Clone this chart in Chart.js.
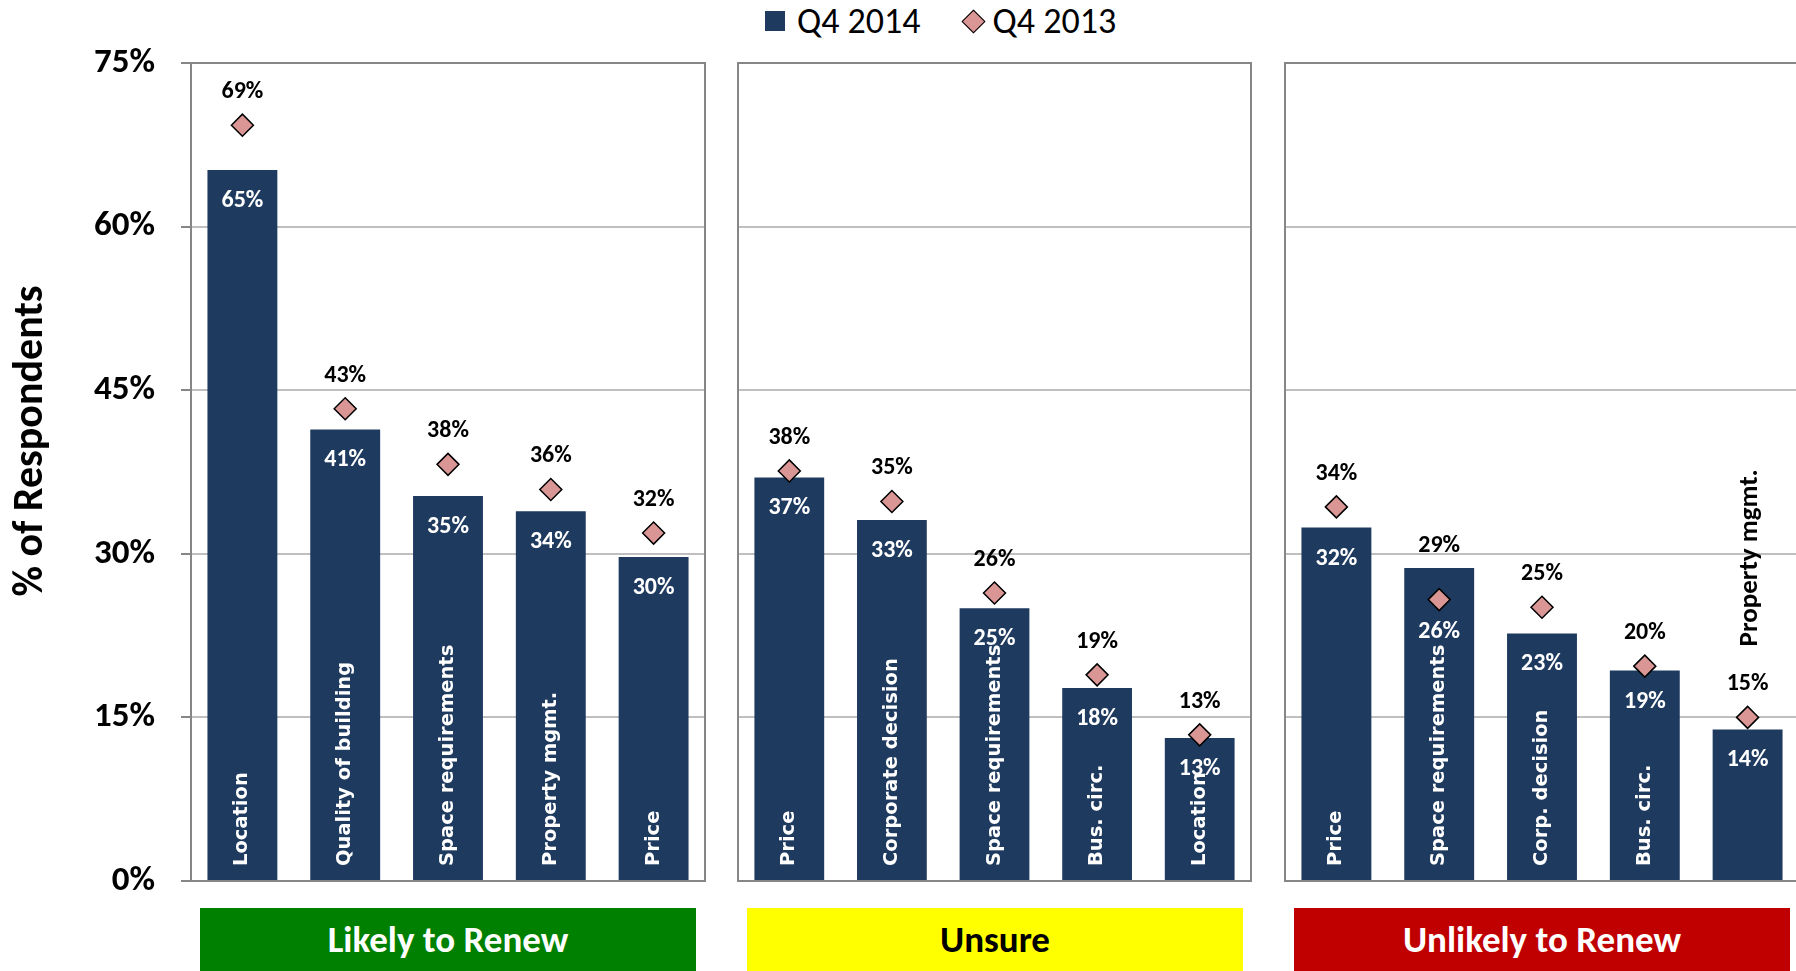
<!DOCTYPE html>
<html>
<head>
<meta charset="utf-8">
<script src="https://cdn.jsdelivr.net/npm/chart.js@4/dist/chart.umd.min.js"></script>
<style>
body { margin: 0; background: #fff; }
#page { position: relative; width: 1796px; height: 971px; overflow: hidden; font-family: Carlito, Lato, sans-serif; }
.panel { position: absolute; top: 0; }
.group { position: absolute; top: 908px; height: 63px; width: 496px; display: flex; align-items: center; justify-content: center; font-weight: bold; font-size: 37px; }
#legend { position: absolute; left: 765px; top: 0; height: 42px; display: flex; align-items: center; font-size: 36px; color: #000; }
#legend .sq { display: inline-block; width: 20px; height: 20px; background: #1E3A5F; margin-right: 12px; }
#legend .dm { display: inline-block; width: 15px; height: 15px; background: #D99694; border: 1.5px solid #000; transform: rotate(45deg); margin-left: 44px; margin-right: 11px; }
</style>
</head>
<body>
<div id="page">
  <div id="legend"><span class="sq"></span><span id="lg1"></span><span class="dm"></span><span id="lg2"></span></div>
  <div class="panel" style="left:0px"><canvas id="c1" width="710" height="900"></canvas></div>
  <div class="panel" style="left:733px"><canvas id="c2" width="523" height="900"></canvas></div>
  <div class="panel" style="left:1280px"><canvas id="c3" width="525" height="900"></canvas></div>
  <div class="group" id="g1" style="left:200px; background:#008000; color:#fff"></div>
  <div class="group" id="g2" style="left:747px; background:#FFFF00; color:#000"></div>
  <div class="group" id="g3" style="left:1294px; background:#C00000; color:#fff"></div>
</div>
<script>
// chart values
var seriesNames = ['Q4 2014', 'Q4 2013'];
var groupNames = ['Likely to Renew', 'Unsure', 'Unlikely to Renew'];
var yTicks = [0, 15, 30, 45, 60, 75];
var yTitle = '% of Respondents';

var likelyCats = ['Location', 'Quality of building', 'Space requirements', 'Property mgmt.', 'Price'];
var likely2014 = [65.2, 41.4, 35.3, 33.9, 29.7];
var likely2013 = [69.3, 43.3, 38.2, 35.9, 31.9];

var unsureCats = ['Price', 'Corporate decision', 'Space requirements', 'Bus. circ.', 'Location'];
var unsure2014 = [37.0, 33.1, 25.0, 17.7, 13.1];
var unsure2013 = [37.6, 34.8, 26.4, 18.9, 13.4];

var unlikelyCats = ['Price', 'Space requirements', 'Corp. decision', 'Bus. circ.', 'Property mgmt.'];
var unlikely2014 = [32.4, 28.7, 22.7, 19.3, 13.9];
var unlikely2013 = [34.3, 25.8, 25.1, 19.7, 15.0];

var barColor = '#1E3A5F';
var markColor = '#D99694';
var calibri = 'Carlito, Lato, sans-serif';

document.getElementById('lg1').textContent = seriesNames[0];
document.getElementById('lg2').textContent = seriesNames[1];
document.getElementById('g1').textContent = groupNames[0];
document.getElementById('g2').textContent = groupNames[1];
document.getElementById('g3').textContent = groupNames[2];

function pct(v) {
    return Math.round(v) + '%';
}

// panel box, value labels and category labels
var labelPlugin = {
    id: 'labels',
    afterDatasetsDraw: function(chart) {
        var ctx = chart.ctx;
        var a = chart.chartArea;
        ctx.save();
        ctx.strokeStyle = '#868686';
        ctx.lineWidth = 2;
        ctx.strokeRect(a.left, a.top, a.right - a.left, a.bottom - a.top);

        var bars = chart.getDatasetMeta(0).data;
        var marks = chart.getDatasetMeta(1).data;
        var q14 = chart.data.datasets[0].data;
        var q13 = chart.data.datasets[1].data;
        var cats = chart.data.labels;
        var base = chart.scales.y.getPixelForValue(0);

        for (var i = 0; i < bars.length; i++) {
            var x = bars[i].x;
            var barTop = bars[i].y;
            var mk = marks[i].y;
            var topY, lowY, topText, lowText;
            // higher of the two values goes above in black, lower one inside the bar
            if (q13[i] >= q14[i]) {
                topY = mk - 11 - 22; topText = pct(q13[i]);
                lowY = barTop + 31; lowText = pct(q14[i]);
            } else {
                topY = barTop - 22; topText = pct(q14[i]);
                lowY = mk + 32; lowText = pct(q13[i]);
            }
            ctx.textAlign = 'center';
            ctx.textBaseline = 'middle';
            ctx.font = 'bold 24px ' + calibri;
            ctx.fillStyle = '#000';
            ctx.fillText(topText, x, topY);
            ctx.fillStyle = '#fff';
            ctx.fillText(lowText, x, lowY);

            ctx.font = 'bold 19.5px "DejaVu Sans"';
            var w = ctx.measureText(cats[i]).width;
            ctx.save();
            if (w + 30 < base - barTop) {
                ctx.translate(x, base - 15);
                ctx.fillStyle = '#fff';
            } else {
                ctx.font = 'bold 27px ' + calibri;
                ctx.translate(x + 3, topY - 38);
                ctx.fillStyle = '#000';
            }
            ctx.rotate(-Math.PI / 2);
            ctx.textAlign = 'left';
            ctx.fillText(cats[i], 0, 0);
            ctx.restore();
        }
        ctx.restore();
    }
};

var titlePlugin = {
    id: 'ytitle',
    afterDraw: function(chart) {
        var ctx = chart.ctx;
        ctx.save();
        ctx.translate(31, 441);
        ctx.rotate(-Math.PI / 2);
        ctx.font = 'bold 42px ' + calibri;
        ctx.fillStyle = '#000';
        ctx.textAlign = 'center';
        ctx.textBaseline = 'middle';
        ctx.fillText(yTitle, 0, 0);
        ctx.restore();
    }
};

function makeChart(id, cats, q14, q13, first, padLeft, padRight) {
    var plugins = [labelPlugin];
    if (first) plugins.push(titlePlugin);

    return new Chart(document.getElementById(id), {
        type: 'bar',
        data: {
            labels: cats,
            datasets: [
                {
                    label: seriesNames[0],
                    data: q14,
                    backgroundColor: barColor,
                    barPercentage: 0.68,
                    categoryPercentage: 1,
                    order: 2
                },
                {
                    type: 'line',
                    label: seriesNames[1],
                    data: q13,
                    showLine: false,
                    pointStyle: 'rectRot',
                    pointRadius: 11,
                    pointHoverRadius: 11,
                    pointBackgroundColor: markColor,
                    pointBorderColor: '#000',
                    pointBorderWidth: 1.5,
                    order: 1
                }
            ]
        },
        options: {
            responsive: false,
            animation: false,
            events: [],
            layout: {
                autoPadding: false,
                padding: { left: padLeft, right: padRight, top: 63, bottom: 19 }
            },
            plugins: {
                legend: { display: false },
                tooltip: { enabled: false }
            },
            scales: {
                x: { display: false },
                y: {
                    min: 0,
                    max: 75,
                    afterBuildTicks: function(s) {
                        s.ticks = yTicks.map(function(v) { return { value: v }; });
                    },
                    afterFit: function(s) {
                        s.width = first ? 191 : 0;
                        s.paddingTop = 0;
                        s.paddingBottom = 0;
                    },
                    border: { display: false },
                    grid: {
                        color: '#BFBFBF',
                        lineWidth: 2,
                        drawTicks: first,
                        tickLength: 10,
                        tickColor: '#868686'
                    },
                    ticks: {
                        display: first,
                        padding: 26,
                        color: '#000',
                        font: { family: calibri, weight: 'bold', size: 35 },
                        callback: function(v) { return v + '%'; }
                    }
                }
            }
        },
        plugins: plugins
    });
}

makeChart('c1', likelyCats, likely2014, likely2013, true, 0, 5);
makeChart('c2', unsureCats, unsure2014, unsure2013, false, 5, 5);
makeChart('c3', unlikelyCats, unlikely2014, unlikely2013, false, 5, 6);
</script>
</body>
</html>
